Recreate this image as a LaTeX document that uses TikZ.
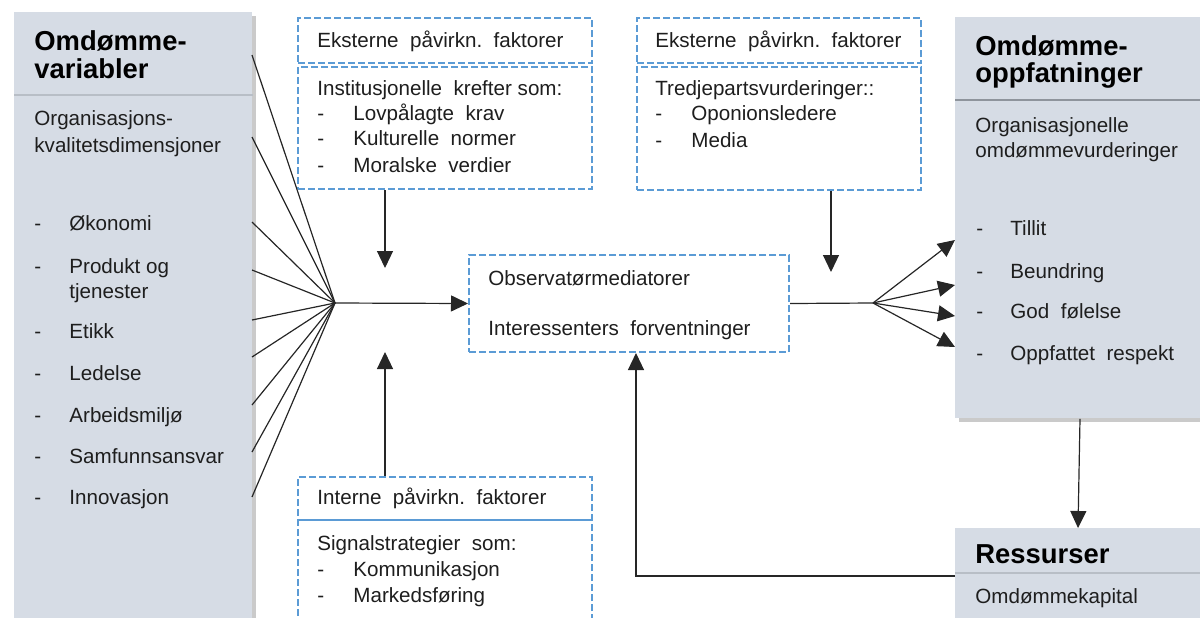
\documentclass[tikz,border=0pt]{standalone}
\usepackage{fontspec}
\setmainfont{Liberation Sans}
\usetikzlibrary{arrows.meta,shadows,calc}
\definecolor{boxfill}{HTML}{D6DCE5}
\definecolor{dashblue}{HTML}{5B9BD5}
\definecolor{sepgray}{HTML}{B8BEC6}
\definecolor{sepdark}{HTML}{8E949C}
\definecolor{txtcol}{HTML}{1E1E1E}
\tikzset{
  graybox/.style={fill=boxfill, draw=none, anchor=north west, inner sep=0pt,
    drop shadow={shadow xshift=1.6pt, shadow yshift=-1.6pt, opacity=0.35, fill=black!60}},
  dashbox/.style={draw=dashblue, line width=1pt, dash pattern=on 3.5pt off 1.5pt,
    fill=white, anchor=north west, inner sep=0pt},
  txt/.style={anchor=base west, inner sep=0pt, text=txtcol,
    font=\fontsize{10.3pt}{12pt}\selectfont},
  head/.style={anchor=base west, inner sep=0pt, text=black,
    font=\fontsize{13.7pt}{16pt}\selectfont\bfseries},
  conn/.style={draw=black!85, line width=0.6pt},
  arr/.style={conn, -{Triangle[length=8.5pt,width=8pt]}},
  sepline/.style={draw=sepgray, line width=0.8pt},
}
\begin{document}
\begin{tikzpicture}[x=0.5pt, y=-0.5pt]
\useasboundingbox (0,0) rectangle (1200,617);

% ---------- left gray box ----------
\node[graybox, minimum width=119pt, minimum height=309pt] (lv) at (14,12) {};
\draw[sepline] ($(lv.north west)+(0,83)$) -- ($(lv.north east)+(0,83)$);
\node[head] (lvh1) at (34,50) {Omdømme-};
\node[head] (lvh2) at (34,78) {variabler};
\node[txt] (lvt1) at (34,125) {Organisasjons-};
\node[txt] (lvt2) at (34,152) {kvalitetsdimensjoner};
\foreach \y/\t [count=\i] in {230/Økonomi, 273/Produkt og, 338/Etikk, 380/Ledelse, 422/Arbeidsmiljø, 463/Samfunnsansvar, 504/Innovasjon}{
  \node[txt] (lvd\i) at (34,\y) {-};
  \node[txt] (lvi\i) at (69,\y) {\t};
}
\node[txt] (lvtj) at (69,298) {tjenester};

% ---------- right gray boxes ----------
\node[graybox, minimum width=130pt, minimum height=200.5pt] (ro) at (955,17) {};
\draw[draw=sepdark, line width=0.8pt] ($(ro.north west)+(0,83)$) -- ($(ro.north east)+(0,83)$);
\node[head] (roh1) at (975,55) {Omdømme-};
\node[head] (roh2) at (975,82) {oppfatninger};
\node[txt] (rot1) at (975,132) {Organisasjonelle};
\node[txt] (rot2) at (975,157) {omdømmevurderinger};
\foreach \y/\t [count=\i] in {235/Tillit, 278/Beundring, 318/God\ \ følelse, 360/Oppfattet\ \ respekt}{
  \node[txt] (rod\i) at (976,\y) {-};
  \node[txt] (roi\i) at (1010,\y) {\t};
}

\node[graybox, minimum width=130pt, minimum height=51pt] (res) at (955,528) {};
\draw[sepline] ($(res.north west)+(0,45)$) -- ($(res.north east)+(0,45)$);
\node[head] (resh) at (975,563) {Ressurser};
\node[txt] (rest) at (975,603) {Omdømmekapital};

% ---------- dashed boxes ----------
\node[dashbox, minimum width=147pt, minimum height=22.5pt] (e1h) at (297,17) {};
\node[dashbox, minimum width=147pt, minimum height=61pt] (e1b) at (297,66) {};
\node[txt] (e1ht) at (317,47) {Eksterne\ \ påvirkn.\ \ faktorer};
\node[txt] (e1t0) at (317,95) {Institusjonelle\ \ krefter som:};
\foreach \y/\t [count=\i] in {120/Lovpålagte\ \ krav, 145/Kulturelle\ \ normer, 172/Moralske\ \ verdier}{
  \node[txt] (e1d\i) at (317,\y) {-};
  \node[txt] (e1i\i) at (353,\y) {\t};
}

\node[dashbox, minimum width=142pt, minimum height=22.5pt] (e2h) at (636,17) {};
\node[dashbox, minimum width=142pt, minimum height=61.5pt] (e2b) at (636,66) {};
\node[txt] (e2ht) at (655,47) {Eksterne\ \ påvirkn.\ \ faktorer};
\node[txt] (e2t0) at (655,95) {Tredjepartsvurderinger::};
\foreach \y/\t [count=\i] in {120/Oponionsledere, 147/Media}{
  \node[txt] (e2d\i) at (655,\y) {-};
  \node[txt] (e2i\i) at (691,\y) {\t};
}

\node[dashbox, minimum width=160pt, minimum height=48.5pt] (obs) at (468,254) {};
\node[txt] (obst1) at (488,285) {Observatørmediatorer};
\node[txt] (obst2) at (488,335) {Interessenters\ \ forventninger};

\node[dashbox, minimum width=147pt, minimum height=80pt] (int) at (297,476) {};
\draw[draw=dashblue, line width=1pt] ($(int.north west)+(0,44)$) -- ($(int.north east)+(0,44)$);
\node[txt] (intht) at (317,504) {Interne\ \ påvirkn.\ \ faktorer};
\node[txt] (intt0) at (317,550) {Signalstrategier\ \ som:};
\foreach \y/\t [count=\i] in {576/Kommunikasjon, 602/Markedsføring}{
  \node[txt] (intd\i) at (317,\y) {-};
  \node[txt] (inti\i) at (353,\y) {\t};
}

% ---------- connectors ----------
\coordinate (hub) at (335,303);
\coordinate (hub2) at (873,303);
\foreach \y [count=\i] in {55,137,222,270,320,357,405,452,497}{
  \coordinate (s\i) at (252,\y);
  \draw[conn] (s\i) -- (hub);
}
\draw[arr] (hub) -- (obs.west);

\coordinate (a1e) at (385,268);
\draw[arr] ($(e1b.south west)+(88,0)$) -- (a1e);
\coordinate (a2e) at (831,272);
\draw[arr] ($(e2b.south west)+(195,0)$) -- (a2e);
\coordinate (a3e) at (385,352);
\draw[arr] ($(int.north west)+(88,0)$) -- (a3e);

\draw[conn] (obs.east) -- (hub2);
\foreach \y [count=\i] in {240,285,316,347}{
  \coordinate (t\i) at (955,\y);
  \draw[arr] (hub2) -- (t\i);
}

\draw[arr] ($(ro.south west)+(125,0)$) -- ($(res.north west)+(123,0)$);
\draw[arr] ($(res.north west)+(0,48)$) -| ($(obs.south west)+(168,0)$);
\end{tikzpicture}
\end{document}
